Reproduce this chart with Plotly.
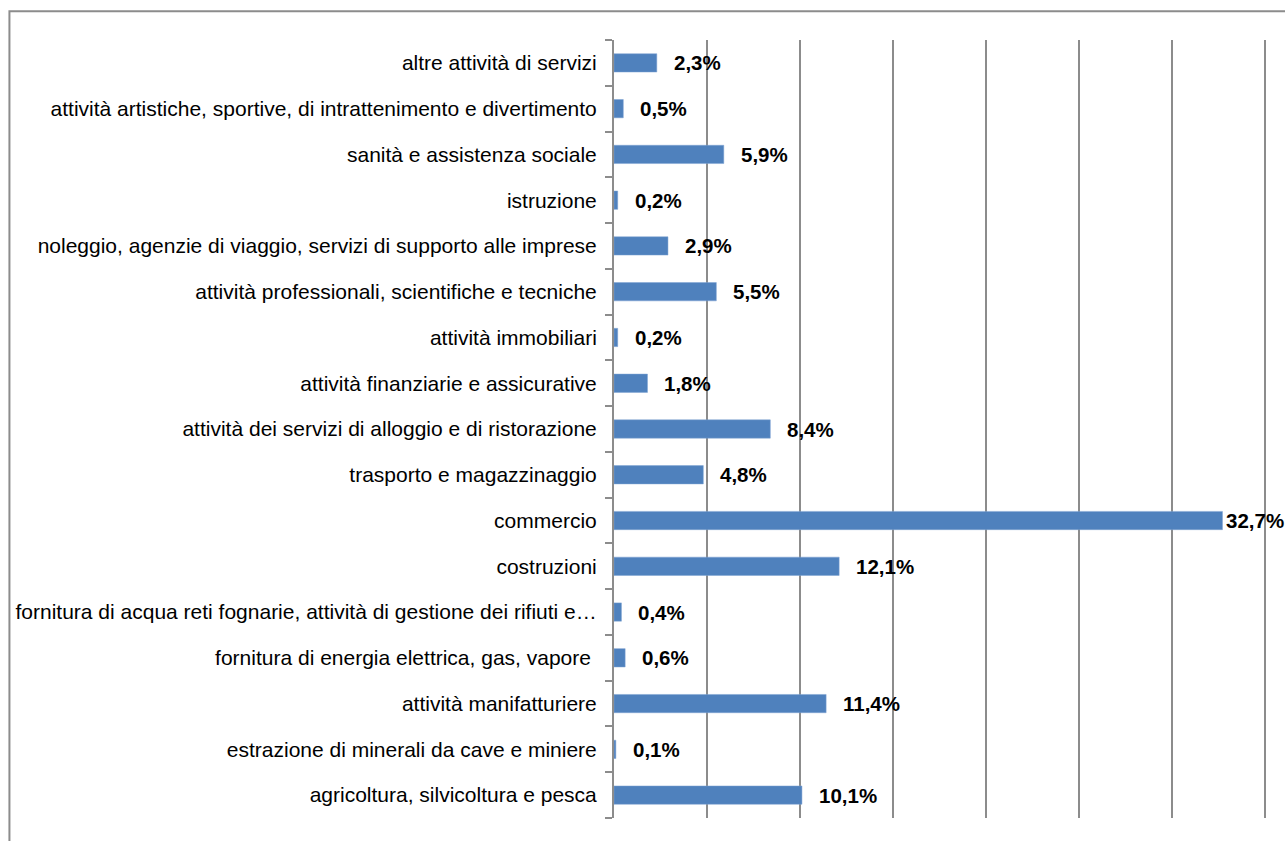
import plotly.graph_objects as go

# categories listed bottom to top
SECTORS = [
    "agricoltura, silvicoltura e pesca",
    "estrazione di minerali da cave e miniere",
    "attività manifatturiere",
    "fornitura di energia elettrica, gas, vapore ",
    "fornitura di acqua reti fognarie, attività di gestione dei rifiuti e…",
    "costruzioni",
    "commercio",
    "trasporto e magazzinaggio",
    "attività dei servizi di alloggio e di ristorazione",
    "attività finanziarie e assicurative",
    "attività immobiliari",
    "attività professionali, scientifiche e tecniche",
    "noleggio, agenzie di viaggio, servizi di supporto alle imprese",
    "istruzione",
    "sanità e assistenza sociale",
    "attività artistiche, sportive, di intrattenimento e divertimento",
    "altre attività di servizi",
]
SHARES = [10.1, 0.1, 11.4, 0.6, 0.4, 12.1, 32.7, 4.8, 8.4, 1.8, 0.2, 5.5, 2.9, 0.2, 5.9, 0.5, 2.3]

BAR_BLUE = "#4F81BD"
GRID_GREY = "#8C8C8C"
FONT = "Liberation Sans, Arial, sans-serif"

fig = go.Figure(
    go.Bar(
        x=SHARES,
        y=SECTORS,
        orientation="h",
        width=0.4,
        marker=dict(color=BAR_BLUE, line=dict(color="#7FA3D3", width=0.5)),
        hoverinfo="x+y",
    )
)

for sector, share in zip(SECTORS, SHARES):
    fig.add_annotation(
        x=share,
        y=sector,
        text="<b>" + f"{share:.1f}".replace(".", ",") + "%</b>",
        xanchor="left",
        xshift=2 if share > 30 else 15,
        showarrow=False,
        font=dict(family=FONT, size=20.5, color="black"),
    )

# outer chart frame
fig.add_shape(
    type="rect",
    xref="paper",
    yref="paper",
    x0=-0.923,
    x1=1.05,
    y0=-0.05,
    y1=1.037,
    line=dict(color=GRID_GREY, width=2),
    layer="below",
)

fig.update_xaxes(
    range=[0, 35.2],
    tick0=0,
    dtick=5,
    showticklabels=False,
    showgrid=True,
    gridcolor=GRID_GREY,
    gridwidth=2,
    zeroline=False,
    showline=False,
    fixedrange=True,
)
fig.update_yaxes(
    type="category",
    tickson="boundaries",
    ticks="outside",
    ticklen=7,
    tickcolor=GRID_GREY,
    tickwidth=1.5,
    showline=True,
    linecolor=GRID_GREY,
    linewidth=2,
    showgrid=False,
    automargin=False,
    ticklabelstandoff=11,
    tickfont=dict(family=FONT, size=21, color="black"),
    fixedrange=True,
)
fig.update_layout(
    width=1285,
    height=841,
    margin=dict(l=614, r=16, t=40, b=23),
    plot_bgcolor="white",
    paper_bgcolor="white",
    showlegend=False,
    bargap=0.6,
)

fig.write_html(
    "out.html",
    config={"displayModeBar": False},
    post_script="document.body.style.margin = '0';",
)
